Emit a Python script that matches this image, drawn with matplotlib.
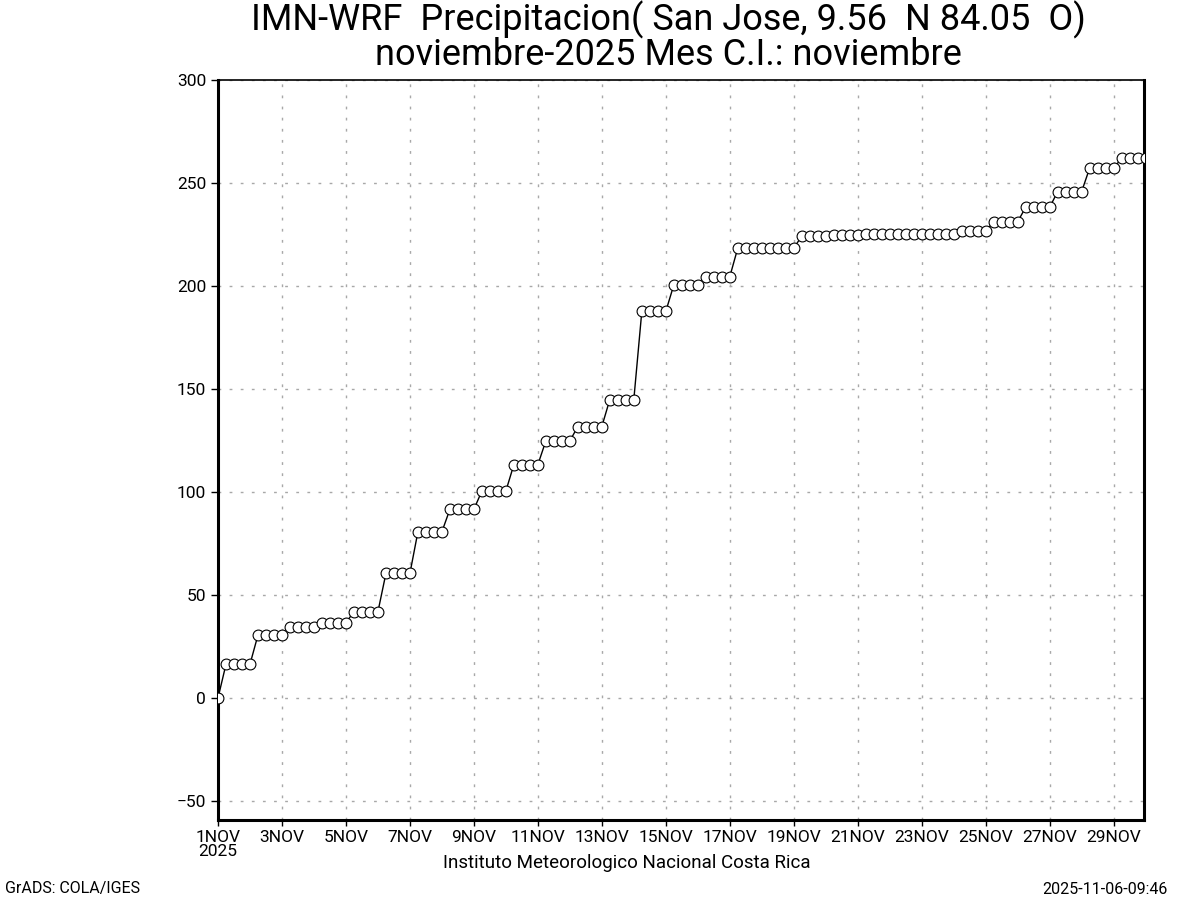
import matplotlib.pyplot as plt
from matplotlib.ticker import MultipleLocator

###############################
## data ####
###############################

# hours since 1 Nov 2025 00Z, one value every 6 hours
step_hours = 6

# accumulated precipitation (mm), 6-hourly
accum_mm = [
    0.0,
    16.4, 16.4, 16.4, 16.4,
    30.6, 30.6, 30.6, 30.6,
    34.4, 34.4, 34.4, 34.4,
    36.6, 36.6, 36.6, 36.6,
    41.9, 41.9, 41.9, 41.9,
    60.5, 60.5, 60.5, 60.5,
    80.7, 80.7, 80.7, 80.7,
    91.6, 91.6, 91.6, 91.6,
    100.5, 100.5, 100.5, 100.5,
    113.3, 113.3, 113.3, 113.3,
    124.8, 124.8, 124.8, 124.8,
    131.8, 131.8, 131.8, 131.8,
    144.9, 144.9, 144.9, 144.9,
    187.7, 187.7, 187.7, 187.7,
    200.5, 200.5, 200.5, 200.5,
    204.5, 204.5, 204.5, 204.5,
    218.4, 218.4, 218.4, 218.4,
    218.4, 218.4, 218.4, 218.4,
    224.2, 224.2, 224.2, 224.2,
    224.8, 224.8, 224.8, 224.8,
    225.3, 225.3, 225.3, 225.3,
    225.3, 225.3, 225.3, 225.3,
    225.4, 225.4, 225.4, 225.4,
    226.6, 226.6, 226.6, 226.6,
    231.2, 231.2, 231.2, 231.2,
    238.2, 238.2, 238.2, 238.2,
    245.8, 245.8, 245.8, 245.8,
    257.2, 257.2, 257.2, 257.2,
    262.0, 262.0, 262.0, 262.0,
]

hours = [i * step_hours for i in range(len(accum_mm))]

tick_days = [1, 3, 5, 7, 9, 11, 13, 15, 17, 19, 21, 23, 25, 27, 29]
tick_labels = [f'{d}NOV' for d in tick_days]
tick_labels[0] = '1NOV\n2025'

title_1 = 'IMN-WRF  Precipitacion( San Jose, 9.56  N 84.05  O)'
title_2 = 'noviembre-2025 Mes C.I.: noviembre'
footer = 'Instituto Meteorologico Nacional Costa Rica'

plt.rcParams['font.family'] = ['Roboto', 'DejaVu Sans']


def plot_precipitation():
    fig = plt.figure(figsize=(12, 9), dpi=100)
    ax = fig.add_axes([218 / 1200, 80 / 900, 926 / 1200, 740 / 900])

    ax.plot(hours, accum_mm, '-', color='black', linewidth=1.0,
            marker='o', markersize=7.8, markerfacecolor='white',
            markeredgecolor='black', markeredgewidth=0.8, zorder=3)

    ax.set_xlim(0, 28.95 * 24)
    ax.set_ylim(-59.2, 300)

    ax.set_xticks([(d - 1) * 24 for d in tick_days])
    ax.set_xticklabels(tick_labels, fontsize=12.5, linespacing=0.9)
    ax.yaxis.set_major_locator(MultipleLocator(50))
    ax.tick_params(axis='y', labelsize=12.5, length=5, width=1, direction='out')
    ax.tick_params(axis='x', length=4, width=1, direction='out', pad=3)

    ax.grid(True, color='#a8a8a8', linestyle=(0, (2, 6)), linewidth=1.0)

    for side in ['left', 'bottom', 'right']:
        ax.spines[side].set_linewidth(2.2)
    ax.spines['top'].set_linewidth(1.2)
    ax.spines['top'].set_linestyle((0, (4, 1)))

    fig.text(668 / 1200, 1 - 37 / 900, title_1 + '\n' + title_2,
             ha='center', va='center', fontsize=26, linespacing=0.95)
    fig.text(627 / 1200, 1 - 863 / 900, footer, ha='center', va='center',
             fontsize=13.5)
    fig.text(5 / 1200, 1 - 889 / 900, 'GrADS: COLA/IGES', ha='left', va='center',
             fontsize=11.5)
    fig.text(1168 / 1200, 1 - 889 / 900, '2025-11-06-09:46', ha='right', va='center',
             fontsize=11.5)

    fig.savefig('out.png', dpi=100)


if __name__ == '__main__':
    plot_precipitation()
